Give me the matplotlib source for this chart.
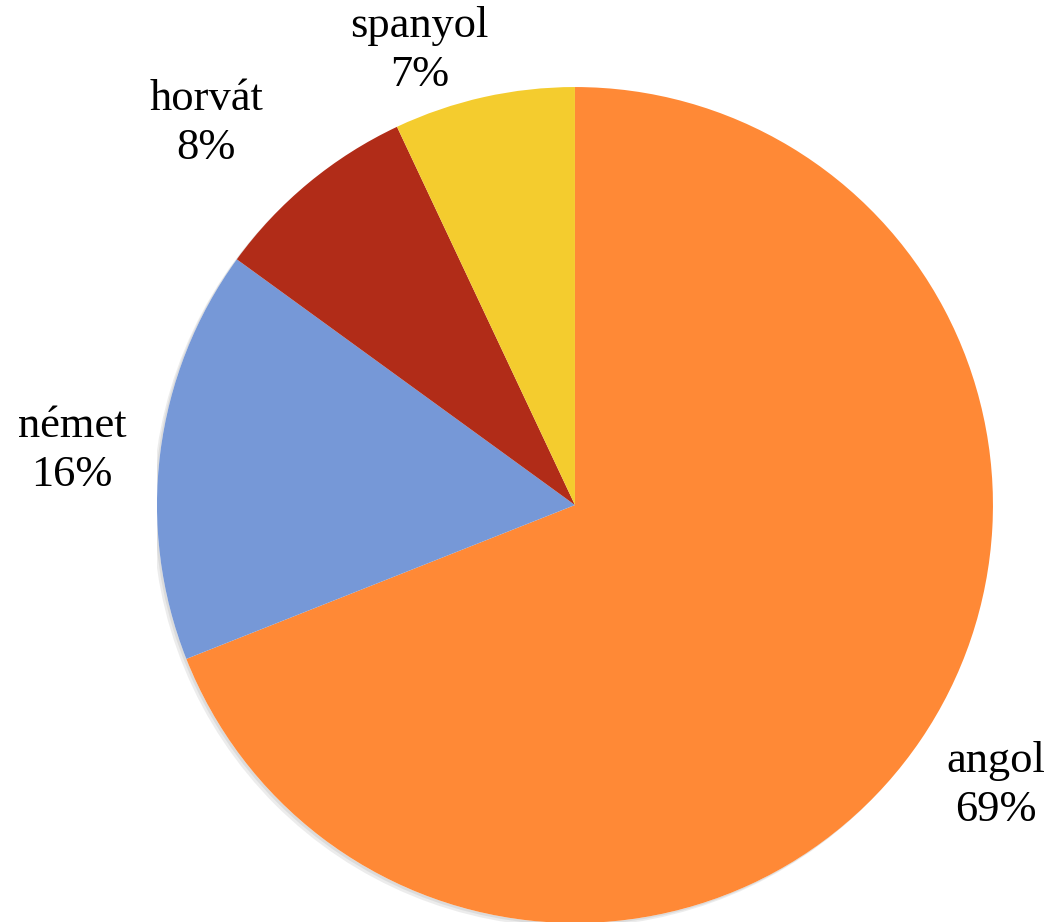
import matplotlib.pyplot as plt
import matplotlib.patheffects as pe
from matplotlib.patches import Circle
import numpy as np

labels = ['angol', 'német', 'horvát', 'spanyol']
values = [69, 16, 8, 7]
colors = ['#FF8936', '#7698D7', '#B12C18', '#F4CC2E']

# label distance from center (in radii) per slice, to mimic the layout
label_r = [1.21, 1.21, 1.27, 1.15]
label_shift = [0.5, 1.0, 4.4, 6.3]  # degrees toward 12 o'clock

fig = plt.figure(figsize=(10.52, 9.22), dpi=100)
ax = fig.add_axes([0.1492, -0.0011, 0.7947, 0.9067])

# soft shadow under the whole pie
shadow = Circle((0, 0), 1.0, facecolor='white', edgecolor='none', zorder=0)
shadow.set_path_effects([pe.SimplePatchShadow(offset=(-3, -3), alpha=0.10),
                         pe.SimplePatchShadow(offset=(-1.5, -1.5), alpha=0.10),
                         pe.Normal()])
ax.add_patch(shadow)

wedges, _ = ax.pie(values, colors=colors, startangle=90, counterclock=False,
                   radius=1.0, wedgeprops=dict(linewidth=0))

for w, name, v, r, sh in zip(wedges, labels, values, label_r, label_shift):
    ang = np.deg2rad(0.5 * (w.theta1 + w.theta2) + sh)
    ax.text(r * np.cos(ang), r * np.sin(ang), f'{name}\n{v}%',
            ha='center', va='center', fontsize=32, linespacing=1.28,
            family=['Liberation Serif', 'DejaVu Serif'], color='black')

ax.set_xlim(-1, 1)
ax.set_ylim(-1, 1)
ax.set_aspect('equal')
ax.axis('off')

fig.savefig('out.png', dpi=100)
